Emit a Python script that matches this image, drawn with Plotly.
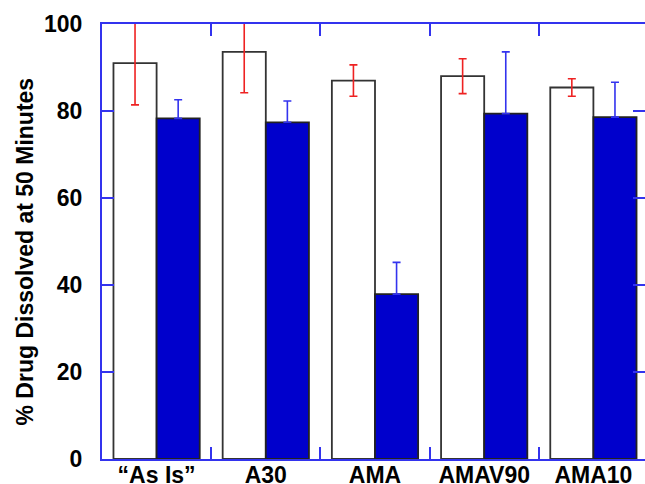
import plotly.graph_objects as go

categories = ["\u201cAs Is\u201d", "A30", "AMA", "AMAV90", "AMA10"]
white_values = [91.0, 93.6, 87.0, 88.0, 85.4]
white_errors = [9.6, 9.4, 3.6, 4.0, 2.0]
blue_values = [78.3, 77.4, 37.9, 79.4, 78.6]
blue_errors = [4.3, 4.9, 7.3, 14.2, 8.0]
y_ticks = [0, 20, 40, 60, 80, 100]
y_title = "% Drug Dissolved at 50 Minutes"

AXIS_BLUE = "#3333ee"
FONT = "Liberation Sans, Arial, Helvetica, sans-serif"

fig = go.Figure()
fig.add_trace(go.Bar(
    x=categories, y=white_values,
    marker=dict(color="white", line=dict(color="#333333", width=1.8)),
    error_y=dict(type="data", array=white_errors, symmetric=True,
                 color="#ee2222", thickness=1.6, width=4),
    showlegend=False,
))
fig.add_trace(go.Bar(
    x=categories, y=blue_values,
    marker=dict(color="#0000cc", line=dict(color="#222222", width=1.8)),
    error_y=dict(type="data", array=blue_errors,
                 arrayminus=[0] * len(blue_errors), symmetric=False,
                 color="#3333ee", thickness=1.6, width=4),
    showlegend=False,
))

fig.update_layout(
    width=645, height=484,
    margin=dict(l=102, r=0, t=24, b=25),
    paper_bgcolor="white", plot_bgcolor="white",
    barmode="group", bargap=0.21, bargroupgap=0,
    font=dict(family=FONT, color="black"),
    annotations=[dict(
        text=y_title, xref="paper", yref="paper",
        x=-0.1418, y=0.477, xanchor="center", yanchor="middle",
        textangle=-90, showarrow=False,
        font=dict(size=23, family=FONT, weight="bold", color="black"),
    )],
)
fig.update_xaxes(
    type="category", automargin=False,
    range=[-0.5, -0.5 + 543 / 109.2],
    showline=True, linecolor=AXIS_BLUE, linewidth=2, mirror="ticks",
    ticks="inside", tickson="boundaries", ticklen=12, tickwidth=1.6,
    tickcolor=AXIS_BLUE, showgrid=False,
    ticklabelstandoff=-6,
    tickfont=dict(size=23, family=FONT, weight="bold"),
)
fig.update_yaxes(
    automargin=False,
    range=[0, 100], tickvals=y_ticks,
    showline=True, linecolor=AXIS_BLUE, linewidth=2, mirror="ticks",
    ticks="inside", ticklen=12, tickwidth=1.6, tickcolor=AXIS_BLUE,
    showgrid=False, zeroline=False,
    ticklabelstandoff=13,
    tickfont=dict(size=23, family=FONT, weight="bold"),
)

fig.write_html("out.html", config={"displayModeBar": False},
               post_script="document.body.style.margin='0px';")
